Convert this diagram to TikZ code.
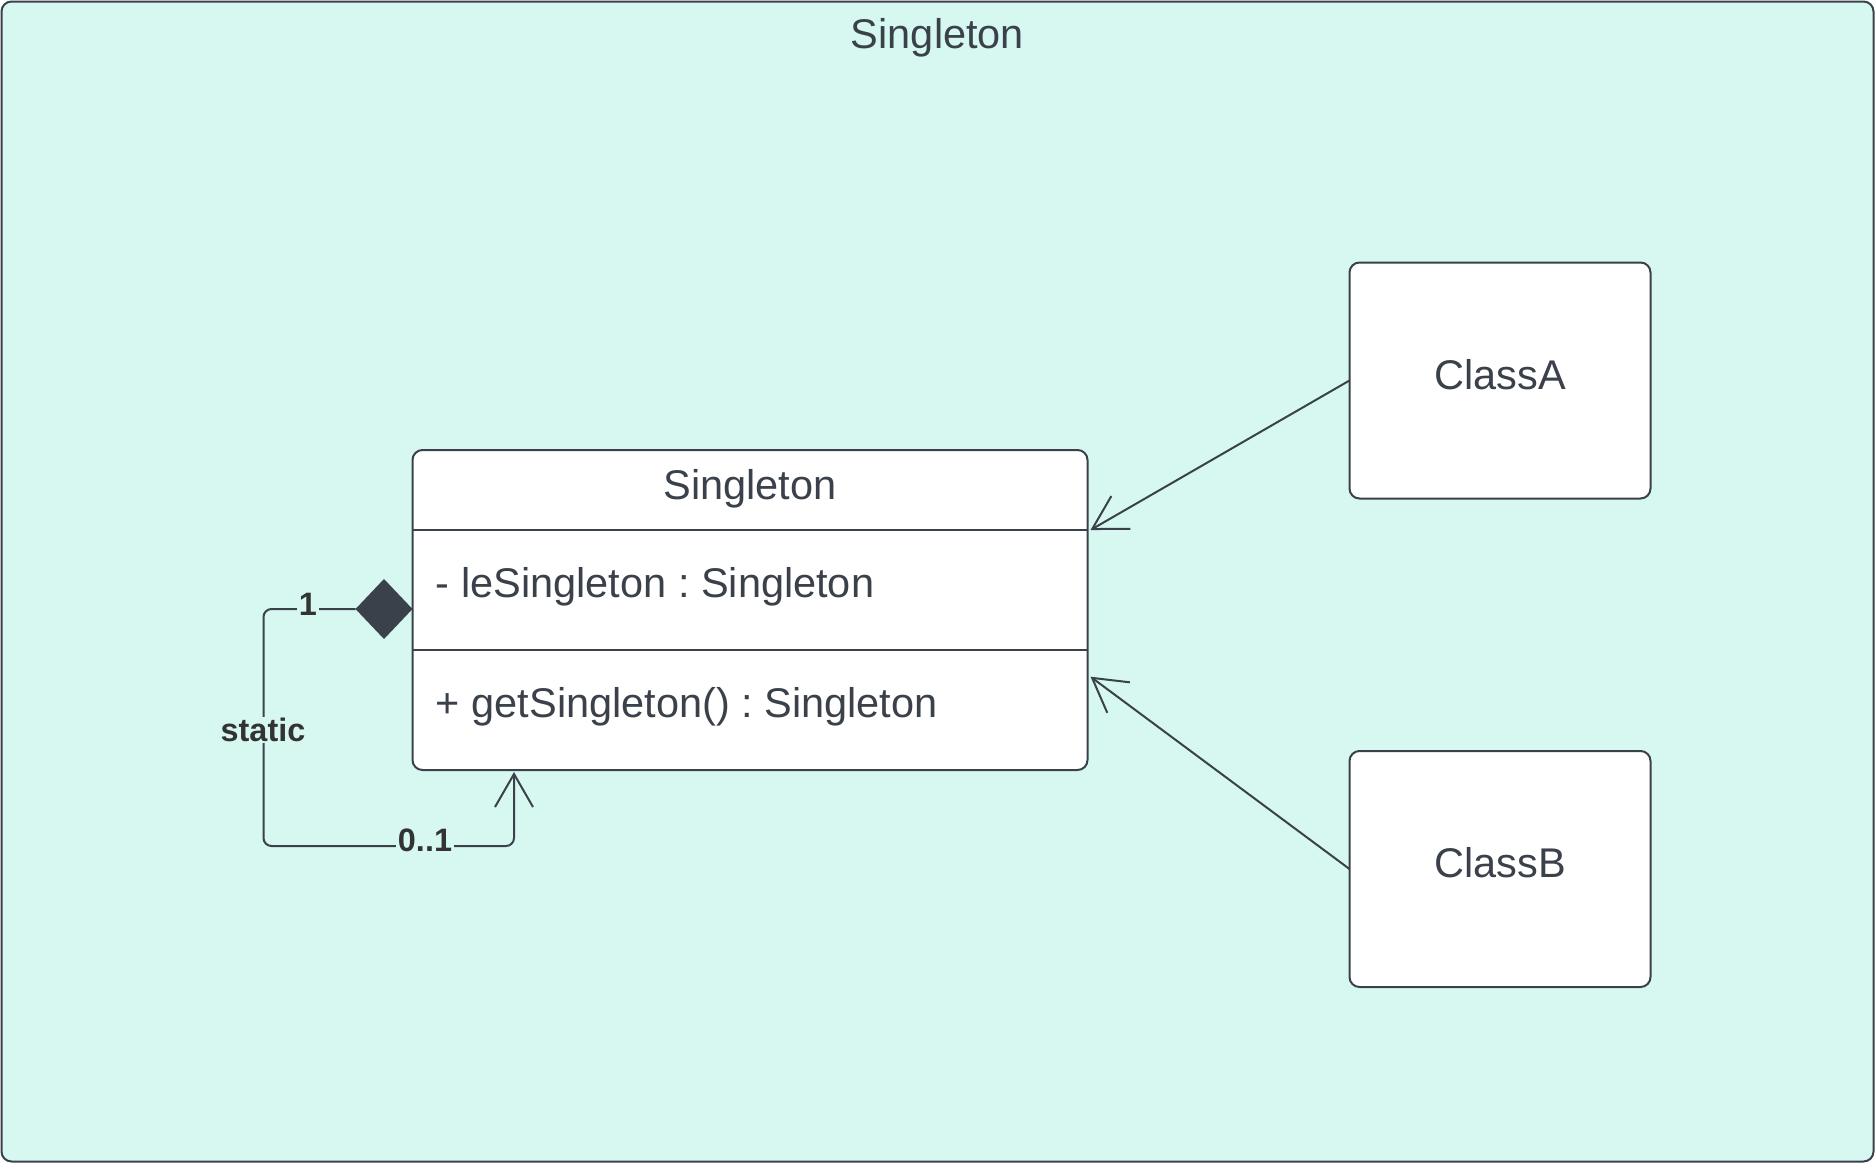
\documentclass[tikz,border=0pt]{standalone}
\usepackage{fontspec}
\setmainfont{Liberation Sans}
\usetikzlibrary{arrows.meta,shapes.geometric,calc}
\definecolor{bgmint}{RGB}{214,248,241}
\definecolor{ink}{RGB}{58,65,74}
\definecolor{lbl}{RGB}{51,51,51}
\frenchspacing
\begin{document}
\frenchspacing
\begin{tikzpicture}[x=1pt,y=-1pt,
  bigtxt/.style={font=\fontsize{41.5}{48}\selectfont\frenchspacing, text=ink, inner sep=0pt},
  lbltxt/.style={font=\fontsize{32.4}{38}\selectfont\bfseries, text=lbl, fill=bgmint, inner sep=1.5pt},
  classbox/.style={draw=ink, line width=2pt, fill=white, rounded corners=10pt, inner sep=0pt, outer sep=0pt},
  conn/.style={draw=ink, line width=2pt},
  openarrow/.style={-{Straight Barb[length=33pt,width=38pt]}},
]
\useasboundingbox (0,0) rectangle (1875,1163);
\node[draw=ink, line width=2pt, fill=bgmint, rounded corners=10pt, minimum width=1872pt, minimum height=1160pt, inner sep=0pt, outer sep=0pt] (frame) at (937.5,581.5) {};
\node[bigtxt, anchor=base] (title) at (937.5,48) {Singleton};

% Singleton class
\node[classbox, minimum width=675pt, minimum height=320pt] (sing) at (750,610) {};
\draw[conn] ([yshift=-80pt]sing.north west) -- ([yshift=-80pt]sing.north east);
\draw[conn] ([yshift=-200pt]sing.north west) -- ([yshift=-200pt]sing.north east);
\node[bigtxt, anchor=base] (hdr) at (750,499.3) {Singleton};
\node[bigtxt, anchor=base west] (attr) at (435.7,597.3) {- leSingleton : Singleton};
\node[bigtxt, anchor=base west] (meth) at (435.7,717.3) {+ getSingleton() : Singleton};

% ClassA / ClassB
\node[classbox, minimum width=301pt, minimum height=236pt] (A) at (1500,380.5) {};
\node[bigtxt, anchor=base] (Atxt) at (1500,389.3) {ClassA};
\node[classbox, minimum width=301pt, minimum height=236pt] (B) at (1500,869) {};
\node[bigtxt, anchor=base] (Btxt) at (1500,877.5) {ClassB};

\coordinate (sA) at ([xshift=3pt,yshift=-80pt]sing.north east);
\coordinate (sB) at ([xshift=3pt,yshift=-226.7pt]sing.north east);
\draw[conn, openarrow] (A.west) -- (sA);
\draw[conn, openarrow] (B.west) -- (sB);

% composition self-association
\node[diamond, fill=ink, draw=none, minimum width=57pt, minimum height=60pt, inner sep=0pt, outer sep=0pt, anchor=east] (dm) at ([yshift=1pt]sing.west) {};
\coordinate (sBot) at ([xshift=101.5pt,yshift=-2pt]sing.south west);
\draw[conn, openarrow, rounded corners=8pt] (dm.west) -- ++(-92,0) |- ([yshift=-74pt]sBot) -- (sBot);

\node[lbltxt] (m1) at (308,604) {1};
\node[lbltxt] (st) at (263,730) {static};
\node[lbltxt] (m01) at (425,840) {0..1};
\end{tikzpicture}
\end{document}
